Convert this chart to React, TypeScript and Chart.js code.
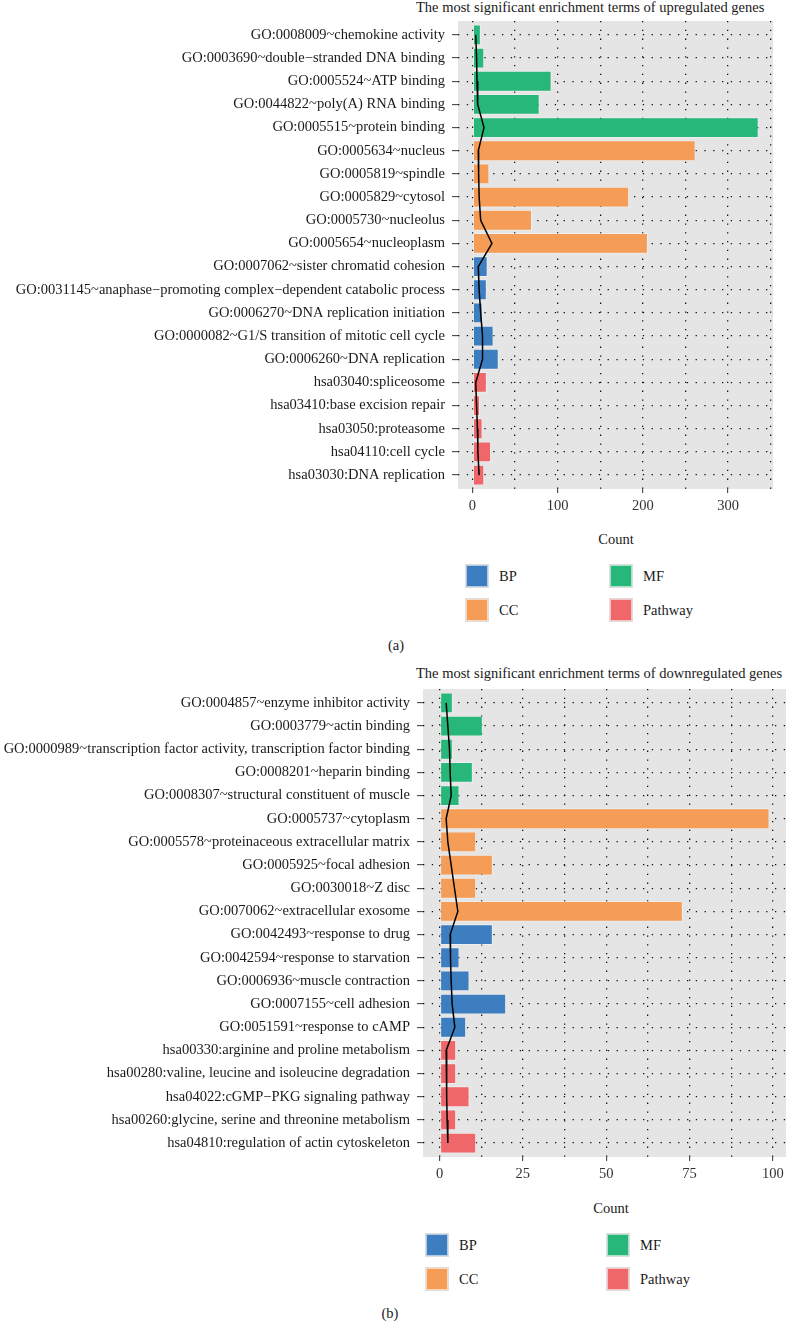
import React, { useEffect, useRef } from 'react';
import { Chart, registerables } from 'chart.js';

Chart.register(...registerables);

const FONT = '"Liberation Serif", "DejaVu Serif", serif';
const FS = 14.5;

// ---------- data: upregulated ----------
const upLabels = [
  'GO:0008009~chemokine activity',
  'GO:0003690~double\u2212stranded DNA binding',
  'GO:0005524~ATP binding',
  'GO:0044822~poly(A) RNA binding',
  'GO:0005515~protein binding',
  'GO:0005634~nucleus',
  'GO:0005819~spindle',
  'GO:0005829~cytosol',
  'GO:0005730~nucleolus',
  'GO:0005654~nucleoplasm',
  'GO:0007062~sister chromatid cohesion',
  'GO:0031145~anaphase\u2212promoting complex\u2212dependent catabolic process',
  'GO:0006270~DNA replication initiation',
  'GO:0000082~G1/S transition of mitotic cell cycle',
  'GO:0006260~DNA replication',
  'hsa03040:spliceosome',
  'hsa03410:base excision repair',
  'hsa03050:proteasome',
  'hsa04110:cell cycle',
  'hsa03030:DNA replication',
];
const upGroups = [
  'MF', 'MF', 'MF', 'MF', 'MF',
  'CC', 'CC', 'CC', 'CC', 'CC',
  'BP', 'BP', 'BP', 'BP', 'BP',
  'Pathway', 'Pathway', 'Pathway', 'Pathway', 'Pathway',
];
const upCounts = [10, 14, 93, 79, 336, 262, 20, 184, 70, 206, 18, 17, 12, 25, 31, 17, 9, 12, 22, 14];
const upLine = [4, 5, 5.5, 6.3, 13.7, 7, 7.4, 8, 9.8, 23, 7, 8, 9.8, 12, 12, 4, 5, 6, 6.5, 8];

// ---------- data: downregulated ----------
const downLabels = [
  'GO:0004857~enzyme inhibitor activity',
  'GO:0003779~actin binding',
  'GO:0000989~transcription factor activity, transcription factor binding',
  'GO:0008201~heparin binding',
  'GO:0008307~structural constituent of muscle',
  'GO:0005737~cytoplasm',
  'GO:0005578~proteinaceous extracellular matrix',
  'GO:0005925~focal adhesion',
  'GO:0030018~Z disc',
  'GO:0070062~extracellular exosome',
  'GO:0042493~response to drug',
  'GO:0042594~response to starvation',
  'GO:0006936~muscle contraction',
  'GO:0007155~cell adhesion',
  'GO:0051591~response to cAMP',
  'hsa00330:arginine and proline metabolism',
  'hsa00280:valine, leucine and isoleucine degradation',
  'hsa04022:cGMP\u2212PKG signaling pathway',
  'hsa00260:glycine, serine and threonine metabolism',
  'hsa04810:regulation of actin cytoskeleton',
];
const downGroups = upGroups;
const downCounts = [4, 13, 4, 10, 6, 99, 11, 16, 11, 73, 16, 6, 9, 20, 8, 5, 5, 9, 5, 11];
const downLine = [2, 2.5, 3, 3.2, 3.5, 2, 2.5, 3.5, 4.5, 5.5, 3.2, 3.3, 3.5, 3.8, 4.6, 2, 2.1, 2.2, 2.3, 2.5];

const groupNames = ['BP', 'CC', 'MF', 'Pathway'];
const groupColors: Record<string, string> = {
  BP: '#3D7EC1',
  CC: '#F59C56',
  MF: '#27B77A',
  Pathway: '#EF6769',
};

const panelBg = {
  id: 'panelBg',
  beforeDraw(chart: any) {
    const { ctx, chartArea: a } = chart;
    ctx.save();
    ctx.fillStyle = '#E5E5E5';
    ctx.fillRect(a.left, a.top, a.right - a.left, a.bottom - a.top);
    ctx.restore();
  },
};

type ChartProps = {
  labels: string[];
  groups: string[];
  counts: number[];
  line: number[];
  xMin: number;
  xMax: number;
  xStep: number;
  xMajor: number;
  xLast: number;
  yWidth: number;
  padRight: number;
  width: number;
  height: number;
  top: number;
};

function EnrichChart(p: ChartProps) {
  const ref = useRef<HTMLCanvasElement | null>(null);
  useEffect(() => {
    if (!ref.current) return;
    const n = p.labels.length;
    const datasets: any[] = groupNames.map((g) => ({
      type: 'bar',
      label: g,
      data: p.counts
        .map((v, i) => ({ x: v, y: i }))
        .filter((_, i) => p.groups[i] === g),
      backgroundColor: groupColors[g],
      borderColor: 'rgba(255,255,255,0.35)',
      borderWidth: 1,
      borderSkipped: false,
      grouped: false,
      barPercentage: 0.9,
      categoryPercentage: 1,
      order: 1,
    }));
    datasets.push({
      type: 'line',
      label: 'line',
      data: p.line.map((v, i) => ({ x: v, y: i })),
      borderColor: '#000',
      borderWidth: 1.5,
      pointRadius: 0,
      fill: false,
      tension: 0,
      order: 0,
    });
    const xTicks: number[] = [];
    for (let v = 0; v <= p.xLast + 1e-9; v += p.xStep) xTicks.push(v);
    const isMajor = (v: number) => Math.abs(v / p.xMajor - Math.round(v / p.xMajor)) < 1e-6;
    const chart = new Chart(ref.current, {
      type: 'bar',
      data: { datasets },
      plugins: [panelBg],
      options: {
        indexAxis: 'y',
        responsive: false,
        maintainAspectRatio: false,
        animation: false,
        devicePixelRatio: 1,
        layout: { padding: { top: 0, right: p.padRight, bottom: 0, left: 0 } },
        plugins: { legend: { display: false }, tooltip: { enabled: false }, title: { display: false } },
        scales: {
          x: {
            type: 'linear',
            position: 'bottom',
            min: p.xMin,
            max: p.xMax,
            offset: false,
            afterBuildTicks: (scale: any) => {
              scale.ticks = xTicks.map((v) => ({ value: v }));
            },
            afterFit: (scale: any) => {
              scale.height = 30;
              scale.paddingLeft = 0;
              scale.paddingRight = 0;
              scale.paddingTop = 0;
              scale.paddingBottom = 0;
            },
            ticks: {
              autoSkip: false,
              maxRotation: 0,
              padding: 4,
              color: '#333',
              font: { family: FONT, size: FS },
              callback: (v: any) => (isMajor(Number(v)) ? String(v) : ''),
            },
            grid: {
              offset: false,
              color: '#111',
              lineWidth: 1.3,
              tickLength: 4,
              tickWidth: 1,
              tickColor: (ctx: any) => (ctx.tick && isMajor(ctx.tick.value) ? '#333' : 'rgba(0,0,0,0)'),
            },
            border: { display: false, dash: [1.3, 7.5] },
          },
          y: {
            type: 'linear',
            position: 'left',
            reverse: true,
            offset: false,
            min: -0.6,
            max: n - 0.4,
            afterBuildTicks: (scale: any) => {
              scale.ticks = p.labels.map((_, i) => ({ value: i }));
            },
            afterFit: (scale: any) => {
              scale.width = p.yWidth;
              scale.paddingLeft = 0;
              scale.paddingRight = 0;
              scale.paddingTop = 0;
              scale.paddingBottom = 0;
            },
            ticks: {
              autoSkip: false,
              padding: 7,
              color: '#1a1a1a',
              font: { family: FONT, size: FS },
              callback: (v: any) => p.labels[Number(v)] ?? '',
            },
            grid: {
              offset: false,
              color: '#111',
              lineWidth: 1.3,
              tickLength: 6,
              tickWidth: 1,
              tickColor: '#333',
            },
            border: { display: false, dash: [1.3, 7.5] },
          },
        },
      } as any,
    });
    return () => chart.destroy();
  }, []);
  return (
    <canvas
      ref={ref}
      width={p.width}
      height={p.height}
      style={{ position: 'absolute', left: 0, top: p.top, width: p.width, height: p.height }}
    />
  );
}

const textStyle: React.CSSProperties = {
  position: 'absolute',
  fontFamily: FONT,
  fontSize: FS,
  lineHeight: '16px',
  color: '#1a1a1a',
  whiteSpace: 'nowrap',
};

function Legend({ left, top, colGap, rowGap }: { left: number; top: number; colGap: number; rowGap: number }) {
  const items = [
    { g: 'BP', c: 0, r: 0 },
    { g: 'CC', c: 0, r: 1 },
    { g: 'MF', c: 1, r: 0 },
    { g: 'Pathway', c: 1, r: 1 },
  ];
  return (
    <>
      {items.map((it) => (
        <React.Fragment key={it.g}>
          <div
            style={{
              position: 'absolute',
              left: left + it.c * colGap,
              top: top + it.r * rowGap,
              width: 22,
              height: 22,
              boxSizing: 'border-box',
              background: groupColors[it.g],
              border: '1px solid rgba(255,255,255,0.6)',
              outline: '1px solid #ddd',
            }}
          />
          <div style={{ ...textStyle, left: left + it.c * colGap + 33, top: top + it.r * rowGap + 3 }}>{it.g}</div>
        </React.Fragment>
      ))}
    </>
  );
}

export default function App() {
  return (
    <div style={{ position: 'relative', width: 786, height: 1321, background: '#fff', overflow: 'hidden' }}>
      <style>{'body{margin:0;}'}</style>
      {/* panel (a) */}
      <div style={{ ...textStyle, left: 416, top: -1 }}>The most significant enrichment terms of upregulated genes</div>
      <EnrichChart
        labels={upLabels}
        groups={upGroups}
        counts={upCounts}
        line={upLine}
        xMin={-16.8}
        xMax={352.8}
        xStep={50}
        xMajor={100}
        xLast={350}
        yWidth={458}
        padRight={13}
        width={786}
        height={498}
        top={21}
      />
      <div style={{ ...textStyle, left: 516, width: 200, textAlign: 'center', top: 531 }}>Count</div>
      <Legend left={466} top={565} colGap={144} rowGap={34} />
      <div style={{ ...textStyle, left: 296, width: 200, textAlign: 'center', top: 637 }}>(a)</div>

      {/* panel (b) */}
      <div style={{ ...textStyle, left: 416, top: 665 }}>The most significant enrichment terms of downregulated genes</div>
      <EnrichChart
        labels={downLabels}
        groups={downGroups}
        counts={downCounts}
        line={downLine}
        xMin={-4.95}
        xMax={103.95}
        xStep={12.5}
        xMajor={25}
        xLast={100}
        yWidth={423}
        padRight={0}
        width={786}
        height={498}
        top={689}
      />
      <div style={{ ...textStyle, left: 511, width: 200, textAlign: 'center', top: 1200 }}>Count</div>
      <Legend left={426} top={1234} colGap={181} rowGap={34} />
      <div style={{ ...textStyle, left: 290, width: 200, textAlign: 'center', top: 1305 }}>(b)</div>
    </div>
  );
}
